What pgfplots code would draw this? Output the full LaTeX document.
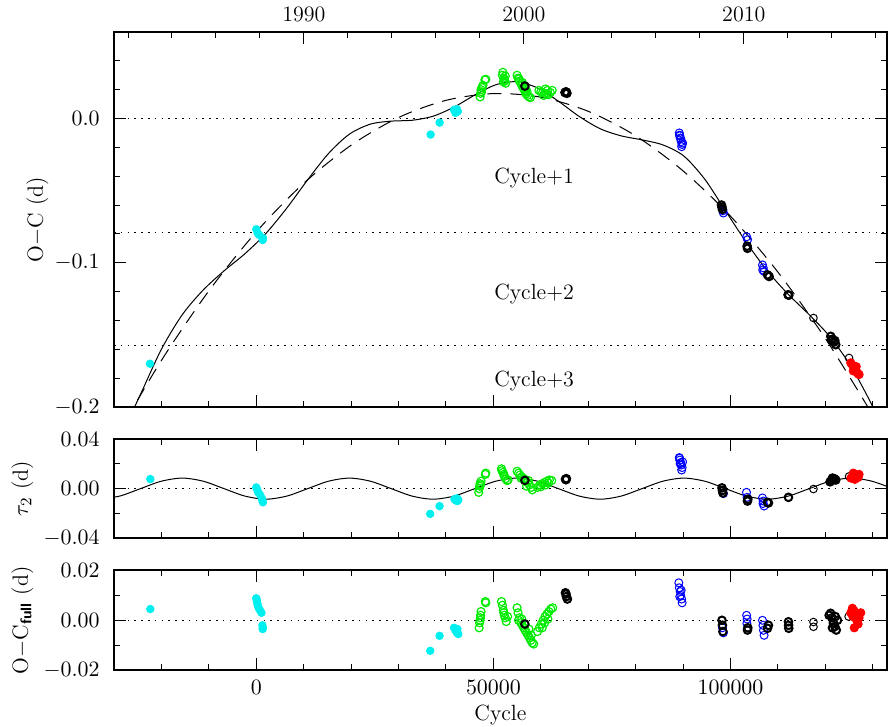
\documentclass[border=0pt]{standalone}
\usepackage{pgfplots}
\pgfplotsset{compat=1.18}
\definecolor{pgGreen}{RGB}{0,235,0}
\definecolor{pgCyan}{RGB}{0,240,240}
\definecolor{pgBlue}{RGB}{0,0,255}
\definecolor{pgRed}{RGB}{255,0,0}
\pgfplotsset{
  panel/.style={
    scale only axis, width=386.5pt, xmin=-30000, xmax=133000, anchor=south west,
    axis line style={line width=1pt},
    every tick/.style={black, line width=0.5pt},
    major tick length=6pt, minor tick length=3pt, tick align=inside,
    xtick={0,50000,100000},
    minor xtick={-20000,-10000,10000,20000,30000,40000,60000,70000,80000,90000,110000,120000,130000},
    xticklabels={}, scaled ticks=false,
    tick label style={font=\fontsize{11}{13}\selectfont},
    yticklabel style={anchor=east, inner sep=0pt, xshift=-7pt},
    every axis y label/.style={at={([xshift=-43pt]axis description cs:0,0.5)}, rotate=90, anchor=base, inner sep=0pt, font=\fontsize{11}{13}\selectfont},
    clip=true,
  },
  dotl/.style={black, line width=0.6pt, dash pattern=on 0.8pt off 2.6pt},
  cyanpt/.style={only marks, mark=*, mark size=1.9pt, draw=pgCyan, fill=pgCyan, mark options={solid}},
  greenpt/.style={only marks, mark=o, mark size=2pt, draw=pgGreen, mark options={line width=0.6pt, solid}},
  bluept/.style={only marks, mark=o, mark size=2pt, draw=pgBlue, mark options={line width=0.5pt, solid}},
  blackpt/.style={only marks, mark=o, mark size=1.9pt, draw=black, mark options={line width=1pt, solid}},
  blackthin/.style={only marks, mark=o, mark size=1.9pt, draw=black, mark options={line width=0.5pt, solid}},
  redpt/.style={only marks, mark=*, mark size=2.1pt, draw=pgRed, fill=pgRed, mark options={solid}},
}
\begin{document}
\begin{tikzpicture}
% ---------------- top panel ----------------
\begin{axis}[panel, at={(0,131.65pt)}, height=187.5pt,
  ymin=-0.2, ymax=0.06, ytick={-0.2,-0.1,0}, yticklabels={$-0.2$,$-0.1$,$0.0$},
  minor ytick={-0.18,-0.16,-0.14,-0.12,-0.08,-0.06,-0.04,-0.02,0.02,0.04},
  xtick pos=left,
  ylabel={O$-$C (d)},
  every axis y label/.append style={at={([xshift=-35.5pt]axis description cs:0,0.5)}},
]
\addplot[dotl] coordinates {(-30000,0) (133000,0)};
\addplot[dotl] coordinates {(-30000,-0.0788) (133000,-0.0788)};
\addplot[dotl] coordinates {(-30000,-0.1576) (133000,-0.1576)};
% dashed curve
\addplot[black, line width=0.5pt, dash pattern=on 7pt off 4.5pt, smooth] coordinates {
(-30000,-0.2231) (-20000,-0.1677) (-10000,-0.1195) (0,-0.0786) (10000,-0.0449)
(20000,-0.0185) (30000,0.0007) (40000,0.0126) (50000,0.0173) (60000,0.0148)
(70000,0.0050) (80000,-0.0120) (90000,-0.0363) (100000,-0.0677) (110000,-0.1065)
(120000,-0.1525) (130000,-0.2057) (135000,-0.2350)};
% solid curve
\addplot[black, line width=0.5pt, smooth] coordinates {
(-33225,-0.2510) (-28819,-0.2221) (-24412,-0.1912) (-20006,-0.160) (-15600,-0.136)
(-11194,-0.1189) (-6788,-0.1056) (-2381,-0.0937) (2025,-0.0797) (6431,-0.0621)
(10838,-0.0425) (15244,-0.0242) (19650,-0.0108) (24056,-0.0039) (28463,-0.0018)
(32869,-0.0012) (37275,0.0016) (41681,0.0079) (46088,0.0163) (50494,0.0234)
(54900,0.0255) (59306,0.0212) (63713,0.0120) (68119,0.0014) (72525,-0.0071)
(76931,-0.0120) (81338,-0.0148) (85744,-0.0183) (90150,-0.0260) (94556,-0.0420)
(98963,-0.0641) (103369,-0.0860) (107775,-0.1057) (112181,-0.1219) (116588,-0.1360)
(120994,-0.1514) (125400,-0.1718) (129806,-0.1986) (134213,-0.2303)};
\addplot[cyanpt] coordinates {(-22410,-0.170) (0,-0.0768) (300,-0.0795) (630,-0.0807) (1350,-0.0842) (1410,-0.0828) (36760,-0.0111) (38660,-0.0028) (41700,0.006) (42000,0.004) (42300,0.0065) (42500,0.005) (42200,0.0045)};
\addplot[greenpt] coordinates {
(47200,0.0150) (47300,0.0175) (47400,0.020) (47600,0.0215) (47800,0.023) (48200,0.0268) (48400,0.0272) (47500,0.0185)
(51900,0.030) (52000,0.032) (52200,0.028) (52400,0.026) (52600,0.0245) (52300,0.027) (52500,0.0295) (52100,0.0255)
(55000,0.030) (55200,0.028) (55500,0.026) (55800,0.0245) (56000,0.023) (56300,0.021) (56600,0.019) (56900,0.017) (57200,0.016) (57500,0.015) (57800,0.0145) (55400,0.0275) (56100,0.025) (56800,0.0205) (57100,0.0185)
(59600,0.0195) (60000,0.0185) (60400,0.018) (60800,0.0175) (61200,0.017) (61600,0.0165) (62000,0.018) (62400,0.0195) (60600,0.0160) (61400,0.0195) (61000,0.0205)};
\addplot[bluept] coordinates {(89200,-0.010) (89300,-0.012) (89500,-0.014) (89600,-0.016) (89800,-0.018) (89700,-0.0195) (89400,-0.0135) (89900,-0.017) (89250,-0.0115)
(98500,-0.0655) (98400,-0.064) (103400,-0.082) (103600,-0.084) (106740,-0.1015) (106900,-0.1035) (107080,-0.106) (106800,-0.105)};
\addplot[blackpt] coordinates {(56640,0.0225) (65100,0.018) (65300,0.0185) (65500,0.0175) (65400,0.0182)
(98100,-0.060) (98200,-0.0615) (98300,-0.063) (103580,-0.090) (103500,-0.0885) (107800,-0.1084) (108140,-0.1095)
(112140,-0.1222) (112300,-0.1225) (121140,-0.151) (121500,-0.153) (121800,-0.155) (122190,-0.1568) (121300,-0.1535) (122000,-0.154)};
\addplot[blackthin] coordinates {(117490,-0.1383) (125000,-0.166)};
\addplot[redpt] coordinates {(125360,-0.1694) (125700,-0.171) (126000,-0.1725) (126300,-0.174) (126600,-0.1755) (126900,-0.177) (127110,-0.1775) (125900,-0.175) (126500,-0.172)};
\node[anchor=base west, inner sep=0pt, font=\fontsize{11}{13}\selectfont] at (axis cs:50100,-0.045) {Cycle+1};
\node[anchor=base west, inner sep=0pt, font=\fontsize{11}{13}\selectfont] at (axis cs:50100,-0.1257) {Cycle+2};
\node[anchor=base west, inner sep=0pt, font=\fontsize{11}{13}\selectfont] at (axis cs:50100,-0.1856) {Cycle+3};
\end{axis}
% year axis on top
\begin{axis}[at={(0,131.65pt)}, anchor=south west, scale only axis, width=386.5pt, height=187.5pt,
  xmin=1981.363, xmax=2016.512, ymin=0, ymax=1,
  axis x line*=top, axis y line=none, axis line style={line width=1pt},
  every tick/.style={black, line width=0.5pt},
  xtick={1990,2000,2010}, xticklabels={1990,2000,2010},
  minor xtick={1982,1984,1986,1988,1992,1994,1996,1998,2002,2004,2006,2008,2012,2014,2016},
  tick align=inside, major tick length=6pt, minor tick length=3pt,
  xticklabel style={font=\fontsize{11}{13}\selectfont, anchor=base, yshift=5.2pt},
]
\addplot[draw=none] coordinates {(2000,0.5)};
\end{axis}
% ---------------- middle panel ----------------
\begin{axis}[panel, at={(0,66pt)}, height=49.65pt,
  ymin=-0.04, ymax=0.04, ytick={-0.04,0,0.04}, yticklabels={$-0.04$,$0.00$,$0.04$},
  minor ytick={-0.02,0.02},
  ylabel={$\tau_2$ (d)},
]
\addplot[dotl] coordinates {(-30000,0) (133000,0)};
\addplot[black, line width=0.5pt, smooth] coordinates {
(-33225,-0.0085) (-28819,-0.0060) (-24412,0) (-20006,0.0060) (-15600,0.0085)
(-11194,0.0060) (-6788,0) (-2381,-0.0060) (2025,-0.0085) (6431,-0.0060)
(10838,0) (15244,0.0060) (19650,0.0085) (24056,0.0060) (28463,0)
(32869,-0.0060) (37275,-0.0085) (41681,-0.0060) (46088,0) (50494,0.0060)
(54900,0.0085) (59306,0.0060) (63713,0) (68119,-0.0060) (72525,-0.0085)
(76931,-0.0060) (81338,0) (85744,0.0060) (90150,0.0085) (94556,0.0060)
(98963,0) (103369,-0.0060) (107775,-0.0085) (112181,-0.0060) (116588,0)
(120994,0.0060) (125400,0.0085) (129806,0.0060) (134213,0)};
\addplot[cyanpt] coordinates {(-22340,0.0077) (0,0.001) (200,-0.001) (400,-0.003) (800,-0.005) (1200,-0.008) (1400,-0.011) (1300,-0.0095) (36680,-0.0203) (38650,-0.0141) (41800,-0.0085) (42100,-0.0095) (42400,-0.010) (42600,-0.009) (42300,-0.0078)};
\addplot[greenpt] coordinates {
(46900,-0.003) (47000,0.000) (47100,0.002) (47200,0.004) (47400,0.006) (48300,0.0115) (48400,0.0125) (47300,0.003)
(51700,0.0160) (52000,0.013) (52300,0.010) (52600,0.008) (52900,0.0065) (53100,0.007) (51800,0.0145) (52200,0.0115)
(55000,0.0140) (55300,0.0125) (55600,0.011) (56000,0.0095) (56400,0.008) (56800,0.0065) (57200,0.005) (57600,0.003) (58000,0.001) (58200,-0.001) (55800,0.0085) (57000,0.002) (57400,0.0065)
(59300,0.001) (59800,0.003) (60300,0.004) (60800,0.005) (61300,0.006) (61800,0.007) (62300,0.0065) (60000,0.0015) (61000,0.003) (61600,0.0045)};
\addplot[bluept] coordinates {(89200,0.025) (89300,0.023) (89500,0.021) (89600,0.019) (89800,0.017) (89700,0.015) (89400,0.020) (89900,0.0215) (89250,0.0245)
(98500,-0.004) (103370,-0.003) (103500,-0.007) (106740,-0.0075) (106900,-0.010) (107080,-0.014) (106850,-0.012)};
\addplot[blackpt] coordinates {(56640,0.0067) (65200,0.0077) (65400,0.0080) (65300,0.0072)
(98200,0.0006) (98300,-0.0015) (98400,-0.0035) (103580,-0.010) (103650,-0.0085) (107800,-0.011) (108000,-0.0115)
(112220,-0.007) (121000,0.0055) (121300,0.0065) (121600,0.0075) (121900,0.008) (122200,0.007) (121500,0.0085)};
\addplot[blackthin] coordinates {(117490,-0.0003) (125000,0.0099)};
\addplot[redpt] coordinates {(125400,0.0085) (125700,0.0100) (126000,0.011) (126300,0.0095) (126600,0.0105) (126900,0.009) (127100,0.0115) (126200,0.0075) (125900,0.0125)};
\end{axis}
% ---------------- bottom panel ----------------
\begin{axis}[panel, at={(0,0)}, height=50pt,
  ymin=-0.02, ymax=0.02, ytick={-0.02,0,0.02}, yticklabels={$-0.02$,$0.00$,$0.02$},
  minor ytick={-0.01,0.01},
  xticklabels={$0$,$50000$,$100000$},
  xticklabel style={anchor=base, yshift=-12.3pt},
  ylabel={O$-$C\textsubscript{\sffamily\bfseries full} (d)},
  xlabel={Cycle},
  every axis x label/.style={at={([yshift=-25.3pt]axis description cs:0.5,0)}, anchor=base, inner sep=0pt, font=\fontsize{11}{13}\selectfont},
]
\addplot[dotl] coordinates {(-30000,0) (133000,0)};
\addplot[cyanpt] coordinates {(-22340,0.0045) (0,0.0088) (100,0.0080) (200,0.007) (300,0.006) (500,0.005) (800,0.004) (1100,0.003) (1300,-0.002) (1400,-0.003) (1350,-0.0035) (36680,-0.0122) (38650,-0.0062) (41700,-0.003) (42000,-0.004) (42300,-0.005) (42600,-0.0055) (42400,-0.0035)};
\addplot[greenpt] coordinates {
(47000,-0.003) (47100,-0.001) (47200,0.000) (47300,0.002) (47400,0.0035) (48300,0.0075) (48400,0.0070) (47250,0.001)
(51700,0.0075) (51900,0.006) (52100,0.004) (52300,0.002) (52500,0.001) (52700,-0.0005) (53000,0.0015) (52200,0.003)
(55000,0.005) (55200,0.003) (55500,0.001) (55800,-0.001) (56100,-0.002) (56400,-0.003) (56700,-0.004) (57000,-0.005) (57300,-0.006) (57600,-0.007) (57900,-0.008) (58200,-0.009) (58500,-0.0095) (55300,0.0) (56000,0.0005) (57500,-0.0035) (58000,-0.006)
(59300,-0.0045) (59700,-0.003) (60100,-0.0015) (60500,0.000) (60900,0.0015) (61300,0.0025) (61700,0.0035) (62100,0.0045) (62500,0.005) (60300,-0.003) (61500,0.0005) (60800,-0.001)};
\addplot[bluept] coordinates {(89100,0.015) (89200,0.013) (89400,0.0115) (89500,0.010) (89700,0.0085) (89800,0.007) (89600,0.012) (89300,0.0095)
(98500,-0.005) (98300,-0.003) (103400,0.002) (103450,-0.0012) (103500,0.0005) (106740,0.000) (106850,-0.002) (106950,-0.004) (107080,-0.006)};
\addplot[blackpt] coordinates {(56640,-0.0015) (65200,0.011) (65400,0.0095) (65600,0.0085) (65300,0.0105)
(98200,0.000) (98300,-0.002) (98400,-0.0045) (103580,-0.0039) (103650,-0.0030) (107800,-0.0032) (108000,-0.002)
(112220,-0.0006) (112250,-0.0020) (112280,-0.0032)
(120800,0.0020) (121100,0.0028) (121400,0.001) (121700,-0.001) (122000,-0.0025) (122300,-0.0039) (122560,0.000) (121500,-0.003) (122100,0.0015)};
\addplot[blackthin] coordinates {(117490,-0.0007) (117500,-0.0026) (124900,0.0015)};
\addplot[redpt] coordinates {(125360,0.0030) (125700,0.0048) (126000,0.004) (126300,0.002) (126600,0.000) (126900,-0.0015) (127100,0.001) (127460,0.003) (126100,-0.003) (125800,0.0015)};
\end{axis}
\pgfresetboundingbox
\path (-57pt,-28pt) rectangle (387pt,335.15pt);
\end{tikzpicture}
\end{document}
